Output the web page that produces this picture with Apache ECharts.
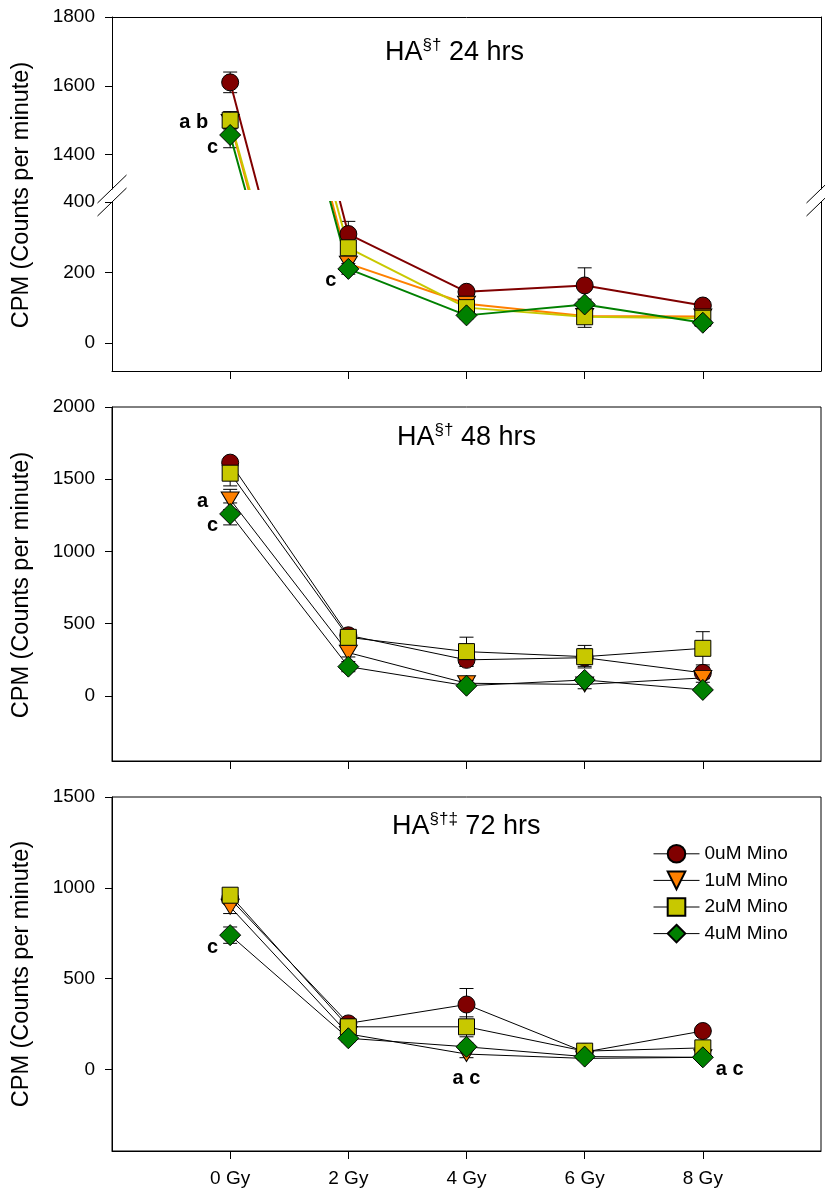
<!DOCTYPE html>
<html>
<head>
<meta charset="utf-8">
<title>CPM by dose</title>
<script src="https://cdn.jsdelivr.net/npm/echarts@6/dist/echarts.min.js"></script>
<style>
  html, body { margin: 0; padding: 0; background: #fff; }
  #chart { width: 825px; height: 1193px; }
</style>
</head>
<body>
<div id="chart"></div>
<script>
// ---- data ----
const doses = [0, 2, 4, 6, 8];
const doseLabels = ["0 Gy", "2 Gy", "4 Gy", "6 Gy", "8 Gy"];
const seriesNames = ["0uM Mino", "1uM Mino", "2uM Mino", "4uM Mino"];

// 24 hrs
const cpm24_0uM = [1610, 309, 145, 163, 106];
const cpm24_1uM = [1495, 225, 111, 76, 75];
const cpm24_2uM = [1500, 270, 100, 74, 70];
const cpm24_4uM = [1457, 210, 78, 109, 57];
const err24_0uM = [30, 36, 10, 50, 10];
const err24_1uM = [20, 12, 10, 10, 8];
const err24_2uM = [25, 15, 10, 30, 10];
const err24_4uM = [37, 15, 10, 15, 10];

// 48 hrs
const cpm48_0uM = [1615, 420, 250, 265, 160];
const cpm48_1uM = [1360, 300, 88, 80, 125];
const cpm48_2uM = [1542, 406, 307, 272, 330];
const cpm48_4uM = [1260, 203, 71, 111, 42];
const err48_0uM = [30, 25, 45, 60, 40];
const err48_1uM = [70, 30, 20, 30, 30];
const err48_2uM = [88, 50, 100, 78, 115];
const err48_4uM = [76, 35, 20, 25, 20];

// 72 hrs
const cpm72_0uM = [940, 253, 357, 95, 211];
const cpm72_1uM = [895, 195, 84, 60, 66];
const cpm72_2uM = [959, 234, 234, 100, 118];
const cpm72_4uM = [739, 171, 124, 70, 66];
const err72_0uM = [30, 20, 88, 15, 20];
const err72_1uM = [37, 20, 20, 12, 12];
const err72_2uM = [25, 20, 55, 15, 20];
const err72_4uM = [45, 20, 20, 12, 12];

// y tick labels
const ticks24Upper = [1400, 1600, 1800];
const ticks24Lower = [0, 200, 400];
const ticks48 = [0, 500, 1000, 1500, 2000];
const ticks72 = [0, 500, 1000, 1500];

// significance letters
const notes24 = [
  { dose: 0, value: 1500, text: "a b", place: "left" },
  { dose: 0, value: 1457, text: "c", place: "lowerLeft" },
  { dose: 2, value: 210, text: "c", place: "lowerLeft" },
];
const notes48 = [
  { dose: 0, value: 1360, text: "a", place: "left" },
  { dose: 0, value: 1260, text: "c", place: "lowerLeft" },
];
const notes72 = [
  { dose: 0, value: 739, text: "c", place: "lowerLeft" },
  { dose: 4, value: 84, text: "a c", place: "below" },
  { dose: 8, value: 66, text: "a c", place: "lowerRight" },
];

// ---- styling ----
const fontFamily = '"Liberation Sans", Arial, sans-serif';
const markerColors = ["#800000", "#ff8000", "#c8c800", "#008000"];
const markerShapes = ["circle", "triangle", "rect", "diamond"];
const markerSizes = [17, [18, 15], 16, 21];
const markerRotate = [0, 180, 0, 0];

const notePlacement = {
  left: { offset: [-22, 2], align: "right" },
  lowerLeft: { offset: [-12, 12], align: "right" },
  below: { offset: [0, 24], align: "center" },
  lowerRight: { offset: [13, 12], align: "left" },
};

const plotLeft = 112;
const plotRight = 821;
const gridRight = 825 - plotRight;

const chart = echarts.init(document.getElementById("chart"), null, { renderer: "canvas" });

const grids = [
  { left: plotLeft, right: gridRight, top: 17, height: 172 },   // 24h upper segment
  { left: plotLeft, right: gridRight, top: 202, height: 169 },  // 24h lower segment
  { left: plotLeft, right: gridRight, top: 407, height: 354, show: true, borderColor: "#000", borderWidth: 1 },
  { left: plotLeft, right: gridRight, top: 797, height: 354, show: true, borderColor: "#000", borderWidth: 1 },
];

const axisLineStyle = { color: "#000", width: 1 };

function xAxisCfg(gridIndex, opts) {
  return {
    type: "value",
    gridIndex,
    min: -2,
    max: 10,
    position: opts.position || "bottom",
    splitLine: { show: false },
    axisLine: { show: true, onZero: false, lineStyle: axisLineStyle },
    axisTick: { show: !!opts.ticks, length: 8, customValues: doses, lineStyle: axisLineStyle },
    axisLabel: {
      show: !!opts.labels,
      customValues: doses,
      margin: 18,
      fontSize: 19,
      fontFamily,
      color: "#000",
      formatter: (v) => doseLabels[doses.indexOf(v)] || "",
    },
  };
}

function yAxisCfg(gridIndex, min, max, ticks) {
  return {
    type: "value",
    gridIndex,
    min,
    max,
    splitLine: { show: false },
    axisLine: { show: true, onZero: false, lineStyle: axisLineStyle },
    axisTick: { show: true, length: 7, customValues: ticks, lineStyle: axisLineStyle },
    axisLabel: {
      customValues: ticks,
      margin: 17,
      fontSize: 19,
      fontFamily,
      color: "#000",
      formatter: (v) => String(v),
    },
  };
}

function rightSpine(gridIndex, min, max) {
  return {
    type: "value",
    gridIndex,
    position: "right",
    min,
    max,
    splitLine: { show: false },
    axisLine: { show: true, onZero: false, lineStyle: axisLineStyle },
    axisTick: { show: false },
    axisLabel: { show: false },
  };
}

const xAxes = [
  xAxisCfg(0, { position: "top" }),
  xAxisCfg(1, { ticks: true }),
  xAxisCfg(2, { ticks: true }),
  xAxisCfg(3, { ticks: true, labels: true }),
];

const yAxes = [
  yAxisCfg(0, 1300, 1800, ticks24Upper),
  rightSpine(0, 1300, 1800),
  yAxisCfg(1, -80, 400, ticks24Lower),
  rightSpine(1, -80, 400),
  yAxisCfg(2, -450, 2000, ticks48),
  yAxisCfg(3, -450, 1500, ticks72),
];

function pairs(values) {
  return values.map((v, i) => [doses[i], v]);
}

function lineSeries(k, values, xIdx, yIdx, colored) {
  return {
    type: "line",
    name: seriesNames[k],
    xAxisIndex: xIdx,
    yAxisIndex: yIdx,
    data: pairs(values),
    clip: true,
    symbol: markerShapes[k],
    symbolSize: markerSizes[k],
    symbolRotate: markerRotate[k],
    showAllSymbol: true,
    lineStyle: { color: colored ? markerColors[k] : "#000", width: colored ? 2 : 1 },
    itemStyle: { color: markerColors[k], borderColor: "#000", borderWidth: 1 },
    emphasis: { disabled: true },
    z: 3,
  };
}

function renderErr(params, api) {
  const x = api.value(0);
  const y = api.value(1);
  const e = api.value(2);
  const top = api.coord([x, y + e]);
  const bot = api.coord([x, y - e]);
  const w = 7;
  const st = { stroke: "#000", lineWidth: 1 };
  return {
    type: "group",
    children: [
      { type: "line", shape: { x1: top[0], y1: top[1], x2: bot[0], y2: bot[1] }, style: st },
      { type: "line", shape: { x1: top[0] - w, y1: top[1], x2: top[0] + w, y2: top[1] }, style: st },
      { type: "line", shape: { x1: bot[0] - w, y1: bot[1], x2: bot[0] + w, y2: bot[1] }, style: st },
    ],
  };
}

function errSeries(valueSets, errSets, xIdx, yIdx) {
  const data = [];
  valueSets.forEach((vals, k) => {
    vals.forEach((v, i) => data.push([doses[i], v, errSets[k][i]]));
  });
  return {
    type: "custom",
    xAxisIndex: xIdx,
    yAxisIndex: yIdx,
    renderItem: renderErr,
    encode: { x: 0, y: 1 },
    data,
    clip: true,
    silent: true,
    z: 2,
  };
}

function noteSeries(notes, xIdx, yIdx) {
  return {
    type: "scatter",
    xAxisIndex: xIdx,
    yAxisIndex: yIdx,
    symbolSize: 0,
    silent: true,
    z: 5,
    itemStyle: { opacity: 1 },
    data: notes.map((n) => ({
      value: [n.dose, n.value],
      label: {
        show: true,
        position: "inside",
        formatter: n.text,
        offset: notePlacement[n.place].offset,
        align: notePlacement[n.place].align,
        verticalAlign: "middle",
        fontSize: 20,
        fontWeight: "bold",
        fontFamily,
        color: "#000",
        textBorderWidth: 0,
      },
    })),
  };
}

const sets24 = [cpm24_0uM, cpm24_1uM, cpm24_2uM, cpm24_4uM];
const errs24 = [err24_0uM, err24_1uM, err24_2uM, err24_4uM];
const sets48 = [cpm48_0uM, cpm48_1uM, cpm48_2uM, cpm48_4uM];
const errs48 = [err48_0uM, err48_1uM, err48_2uM, err48_4uM];
const sets72 = [cpm72_0uM, cpm72_1uM, cpm72_2uM, cpm72_4uM];
const errs72 = [err72_0uM, err72_1uM, err72_2uM, err72_4uM];

const series = [];
// 24 hrs: two segments of a broken axis
[[0, 0], [1, 2]].forEach(([xi, yi]) => {
  series.push(errSeries(sets24, errs24, xi, yi));
  sets24.forEach((vals, k) => series.push(lineSeries(k, vals, xi, yi, true)));
});
series.push(noteSeries(notes24.filter((n) => n.value > 1000), 0, 0));
series.push(noteSeries(notes24.filter((n) => n.value <= 1000), 1, 2));
// 48 hrs
series.push(errSeries(sets48, errs48, 2, 4));
sets48.forEach((vals, k) => series.push(lineSeries(k, vals, 2, 4, false)));
series.push(noteSeries(notes48, 2, 4));
// 72 hrs
series.push(errSeries(sets72, errs72, 3, 5));
sets72.forEach((vals, k) => series.push(lineSeries(k, vals, 3, 5, false)));
series.push(noteSeries(notes72, 3, 5));

// panel titles and axis names
const titleRich = {
  a: { fontSize: 27, fontFamily, color: "#000", lineHeight: 32 },
  s: { fontSize: 17, fontFamily, color: "#000", lineHeight: 17, verticalAlign: "top" },
};
function titleText(x, y, sup, rest) {
  return {
    type: "text",
    x,
    y,
    silent: true,
    style: {
      text: "{a|HA}{s|" + sup + "}{a| " + rest + "}",
      rich: titleRich,
      align: "left",
      verticalAlign: "middle",
    },
  };
}
function yName(cy) {
  return {
    type: "text",
    x: 22,
    y: cy,
    rotation: Math.PI / 2,
    silent: true,
    style: {
      text: "CPM (Counts per minute)",
      font: "23.5px " + fontFamily,
      fill: "#000",
      align: "center",
      verticalAlign: "middle",
    },
  };
}
// slanted break marks on both spines of the 24 hrs panel
const breakUpper = grids[0].top + grids[0].height;
const breakLower = grids[1].top;
function slash(x, y) {
  return {
    type: "line",
    silent: true,
    shape: { x1: x - 14.5, y1: y + 14, x2: x + 14.5, y2: y - 14 },
    style: { stroke: "#000", lineWidth: 1 },
  };
}

const graphics = [
  titleText(385, 53, "§†", "24 hrs"),
  titleText(397, 438, "§†", "48 hrs"),
  titleText(392, 827, "§†‡", "72 hrs"),
  yName(195),
  yName(585),
  yName(974),
  slash(plotLeft, breakUpper),
  slash(plotLeft, breakLower),
  slash(plotRight, breakUpper),
  slash(plotRight, breakLower),
];

const option = {
  animation: false,
  backgroundColor: "#fff",
  grid: grids,
  xAxis: xAxes,
  yAxis: yAxes,
  legend: {
    data: seriesNames,
    orient: "vertical",
    left: 648,
    top: 839,
    itemWidth: 46,
    itemHeight: 22,
    itemGap: 7,
    selectedMode: false,
    lineStyle: { color: "#000", width: 1 },
    textStyle: { fontSize: 19, fontFamily, color: "#000" },
  },
  series,
  graphic: graphics,
};

chart.setOption(option);
</script>
</body>
</html>
